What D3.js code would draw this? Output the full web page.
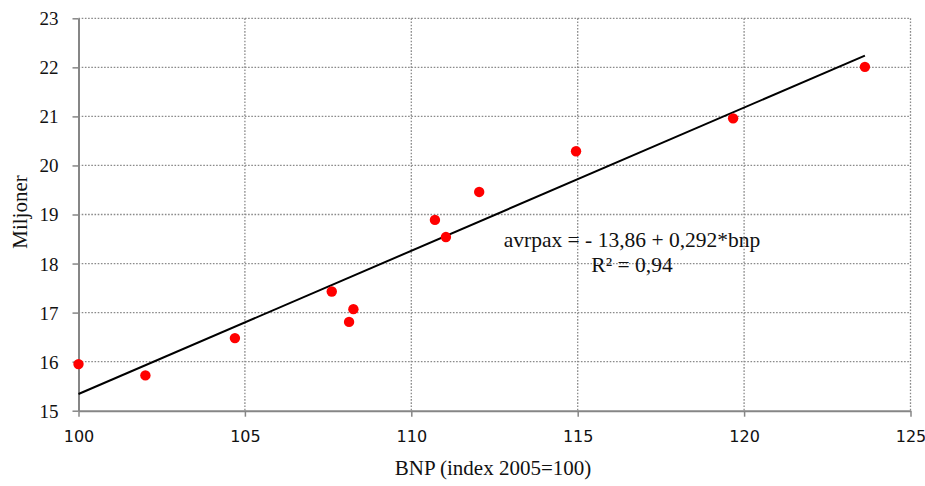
<!DOCTYPE html>
<html><head><meta charset="utf-8">
<script src="https://cdn.jsdelivr.net/npm/d3@7"></script>
<style>body{margin:0;background:#fff}svg{display:block}</style>
</head><body>
<svg id="c" width="925" height="486"></svg>
<script>
const bnp    = [100.0, 102.01, 104.70, 107.61, 108.26, 108.13, 110.71, 111.04, 112.04, 114.95, 119.67, 123.63];
const avrpax = [15.95, 15.72, 16.48, 17.43, 17.07, 16.81, 18.89, 18.54, 19.46, 20.29, 20.96, 22.01];
const xTicks = [100, 105, 110, 115, 120, 125];
const yTicks = [15, 16, 17, 18, 19, 20, 21, 22, 23];
const intercept = -13.86, slope = 0.292;
const eqLine1 = "avrpax = - 13,86 + 0,292*bnp";
const eqLine2 = "R² = 0,94";
const xTitle = "BNP (index 2005=100)";
const yTitle = "Miljoner";

const svg = d3.select("#c");
const L = 78.5, R = 910.5, T = 18.3, B = 410.7;
const x = d3.scaleLinear().domain([100, 125]).range([L, R]);
const y = d3.scaleLinear().domain([15, 23]).range([B, T]);
const grey = "#868686";

// grid
const g = svg.append("g");
g.selectAll(".gy").data(yTicks.filter(d => d > 15)).enter().append("line")
  .attr("x1", L).attr("x2", R).attr("y1", d => y(d)).attr("y2", d => y(d))
  .attr("stroke", "#8a8a8a").attr("stroke-width", 1.3).attr("stroke-dasharray", "1.6,1.6");
g.selectAll(".gx").data(xTicks.filter(d => d > 100)).enter().append("line")
  .attr("y1", T).attr("y2", B).attr("x1", d => x(d)).attr("x2", d => x(d))
  .attr("stroke", "#8a8a8a").attr("stroke-width", 1.3).attr("stroke-dasharray", "1.6,1.6");

// axes
const yAxis = svg.append("g").attr("transform", `translate(${L},0)`)
  .call(d3.axisLeft(y).tickValues(yTicks).tickSize(6).tickSizeOuter(0).tickPadding(14));
yAxis.select(".domain").attr("stroke", grey).attr("stroke-width", 2);
yAxis.selectAll(".tick line").attr("stroke", grey).attr("stroke-width", 1.5);
yAxis.selectAll(".tick text").attr("fill", "#111").style("font-family", "'Liberation Serif', 'Times New Roman', serif").style("font-size", "19px").attr("dy", "0.34em");

const xAxis = svg.append("g").attr("transform", `translate(0,${B})`)
  .call(d3.axisBottom(x).tickValues(xTicks).tickSize(6).tickSizeOuter(0).tickPadding(14));
xAxis.select(".domain").attr("stroke", grey).attr("stroke-width", 2);
xAxis.selectAll(".tick line").attr("stroke", grey).attr("stroke-width", 1.5);
xAxis.selectAll(".tick text").attr("fill", "#111").style("font-family", "'DejaVu Sans', sans-serif").style("font-size", "16px");

// trend line
svg.append("line")
  .attr("x1", x(100)).attr("y1", y(intercept + slope * 100))
  .attr("x2", x(d3.max(bnp))).attr("y2", y(intercept + slope * d3.max(bnp)))
  .attr("stroke", "#000").attr("stroke-width", 2);

// points
svg.selectAll(".pt").data(bnp.map((b, i) => [b, avrpax[i]])).enter().append("circle")
  .attr("cx", d => x(d[0])).attr("cy", d => y(d[1])).attr("r", 5.2).attr("fill", "#ff0000");

// annotation
const serif = "'Liberation Serif', 'Times New Roman', serif";
svg.append("text").attr("x", 632).attr("y", 247).attr("text-anchor", "middle")
  .style("font-family", serif).style("font-size", "21.5px").attr("fill", "#111").text(eqLine1);
svg.append("text").attr("x", 632).attr("y", 272).attr("text-anchor", "middle")
  .style("font-family", serif).style("font-size", "21.5px").attr("fill", "#111").text(eqLine2);

// titles
svg.append("text").attr("x", 493).attr("y", 475).attr("text-anchor", "middle")
  .style("font-family", serif).style("font-size", "21px").attr("fill", "#111").text(xTitle);
svg.append("text").attr("transform", "translate(27,212) rotate(-90)").attr("text-anchor", "middle")
  .style("font-family", serif).style("font-size", "21px").attr("fill", "#111").text(yTitle);
</script>
</body></html>
